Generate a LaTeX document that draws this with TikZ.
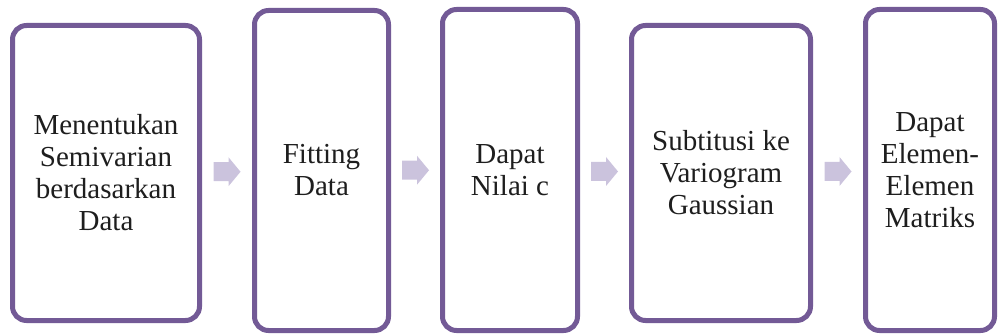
\documentclass[tikz,border=0pt]{standalone}
\usepackage{fontspec}
\setmainfont{Liberation Serif}
\newfontfamily\boxfont{Liberation Serif}
\usetikzlibrary{calc}
\definecolor{boxborder}{RGB}{115,90,150}
\definecolor{arrowfill}{RGB}{203,195,221}
\definecolor{txt}{RGB}{30,30,30}
\tikzset{
  stepbox/.style={draw=boxborder, fill=white, line width=5pt, rounded corners=14pt,
    align=center, inner sep=0pt, text=txt,
    font=\boxfont\fontsize{29pt}{32pt}\selectfont},
  flowarrow/.style={fill=arrowfill, draw=none}
}
\begin{document}
\begin{tikzpicture}[x=1pt,y=1pt]
\useasboundingbox (0,0) rectangle (998,335);
\node[stepbox, minimum width=187pt, minimum height=295pt] (b1) at (106,162)
  {Menentukan\\Semivarian\\berdasarkan\\Data};
\node[stepbox, minimum width=134pt, minimum height=320pt] (b2) at (321.5,164.5)
  {Fitting\\Data};
\node[stepbox, minimum width=135pt, minimum height=321pt] (b3) at (510,165)
  {Dapat\\Nilai c};
\node[stepbox, minimum width=179pt, minimum height=295pt] (b4) at (721,162)
  {Subtitusi ke\\Variogram\\Gaussian};
\node[stepbox, minimum width=129pt, minimum height=321pt] (b5) at (930,165)
  {Dapat\\Elemen-\\Elemen\\Matriks};
\foreach \l/\r/\n in {b1/b2/a1, b2/b3/a2, b3/b4/a3, b4/b5/a4}{
  \coordinate (\n) at ($(\l.east)!0.5!(\r.west)$ |- 0,162.5);
  \fill[flowarrow] ($(\n)+(-13.5,-9.5)$) -- ++(15,0) -- ++(0,-5) -- ($(\n)+(13.5,0)$)
    -- ($(\n)+(1.5,14.5)$) -- ++(0,-5) -- ($(\n)+(-13.5,9.5)$) -- cycle;
}
\end{tikzpicture}
\end{document}
